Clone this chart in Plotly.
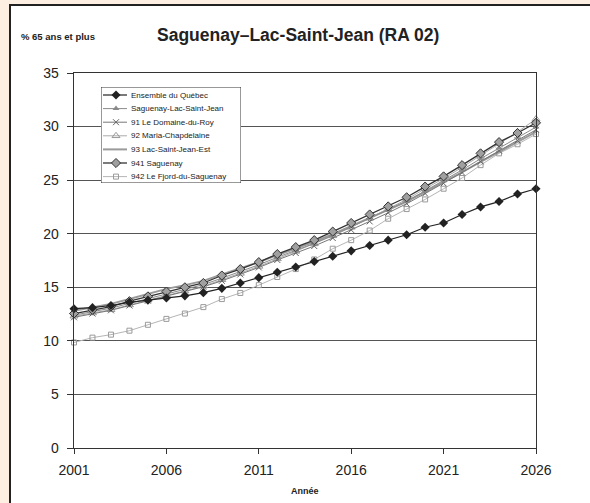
import plotly.graph_objects as go

# ---------------- data ----------------
years = list(range(2001, 2027))

quebec = [13.0, 13.1, 13.3, 13.6, 13.8, 14.0, 14.2, 14.5, 14.9, 15.4, 15.9, 16.4, 16.9,
          17.4, 17.9, 18.4, 18.9, 19.4, 19.9, 20.6, 21.0, 21.8, 22.5, 23.0, 23.7, 24.2]
slsj = [12.4, 12.75, 13.05, 13.5, 13.95, 14.4, 14.8, 15.25, 15.85, 16.45, 17.1, 17.8, 18.45,
        19.1, 19.85, 20.65, 21.45, 22.2, 23.05, 24.0, 24.95, 25.95, 27.0, 28.0, 28.95, 29.95]
roy91 = [12.2, 12.55, 12.85, 13.3, 13.75, 14.2, 14.6, 15.05, 15.6, 16.2, 16.85, 17.55, 18.2,
         18.85, 19.6, 20.35, 21.15, 21.95, 22.8, 23.75, 24.7, 25.7, 26.75, 27.75, 28.7, 29.7]
maria92 = [12.3, 12.6, 12.9, 13.35, 13.8, 14.25, 14.65, 15.1, 15.7, 16.3, 16.95, 17.65, 18.35,
           19.05, 19.8, 20.6, 21.45, 22.3, 23.2, 24.2, 25.15, 26.2, 27.3, 28.4, 29.5, 30.7]
lsje93 = [12.8, 13.15, 13.45, 13.9, 14.35, 14.85, 15.2, 15.6, 16.2, 16.75, 17.35, 18.0, 18.6,
          19.25, 19.95, 20.7, 21.45, 22.2, 23.0, 23.9, 24.8, 25.75, 26.7, 27.65, 28.55, 29.5]
sag941 = [12.55, 12.9, 13.2, 13.7, 14.15, 14.6, 15.0, 15.4, 16.1, 16.7, 17.35, 18.1, 18.75,
          19.4, 20.2, 21.0, 21.8, 22.55, 23.4, 24.4, 25.35, 26.4, 27.5, 28.55, 29.4, 30.35]
fjord942 = [9.85, 10.3, 10.58, 10.95, 11.5, 12.05, 12.55, 13.15, 13.9, 14.47, 15.2, 15.96, 16.7,
            17.6, 18.6, 19.4, 20.3, 21.4, 22.3, 23.2, 24.2, 25.2, 26.4, 27.5, 28.35, 29.3]

names = ["Ensemble du Québec", "Saguenay-Lac-Saint-Jean", "91 Le Domaine-du-Roy",
         "92 Maria-Chapdelaine", "93 Lac-Saint-Jean-Est", "941 Saguenay",
         "942 Le Fjord-du-Saguenay"]
values = [quebec, slsj, roy91, maria92, lsje93, sag941, fjord942]

x_ticks = [2001, 2006, 2011, 2016, 2021, 2026]
y_ticks = [0, 5, 10, 15, 20, 25, 30, 35]

# ---------------- styles ----------------
styles = [
    dict(line=dict(color="#222222", width=1.2),
         marker=dict(symbol="diamond", size=7, color="#222222")),
    dict(line=dict(color="#8a8a8a", width=1),
         marker=dict(symbol="triangle-up", size=6, color="#8a8a8a")),
    dict(line=dict(color="#777777", width=1),
         marker=dict(symbol="x-thin-open", size=6, color="#666666", line=dict(width=1, color="#666666"))),
    dict(line=dict(color="#aaaaaa", width=1),
         marker=dict(symbol="triangle-up-open", size=7, color="#999999", line=dict(width=1, color="#999999"))),
    dict(line=dict(color="#9a9a9a", width=2), marker=None),
    dict(line=dict(color="#333333", width=1.3),
         marker=dict(symbol="diamond", size=7, color="#a0a0a0", line=dict(width=1, color="#333333"))),
    dict(line=dict(color="#b5b5b5", width=1),
         marker=dict(symbol="square-open", size=5, color="#9a9a9a", line=dict(width=1, color="#9a9a9a"))),
]

fig = go.Figure()

order = [6, 4, 3, 2, 1, 5, 0]
for i in order:
    st = styles[i]
    kw = dict(x=years, y=values[i], name=names[i], showlegend=False,
              line=st["line"], cliponaxis=False)
    if st["marker"] is None:
        kw["mode"] = "lines"
    else:
        kw["mode"] = "lines+markers"
        kw["marker"] = st["marker"]
    fig.add_trace(go.Scatter(**kw))

# ---------------- custom compact legend (inset axes) ----------------
row_h = 13.6
for i, nm in enumerate(names):
    yy = 8 + row_h * i
    st = styles[i]
    fig.add_trace(go.Scatter(x=[2, 26], y=[yy, yy], mode="lines", line=st["line"],
                             xaxis="x2", yaxis="y2", showlegend=False, hoverinfo="skip",
                             cliponaxis=False))
    if st["marker"] is not None:
        fig.add_trace(go.Scatter(x=[15], y=[yy], mode="markers", marker=st["marker"],
                                 xaxis="x2", yaxis="y2", showlegend=False, hoverinfo="skip",
                                 cliponaxis=False))
    fig.add_annotation(x=28, y=yy, xref="x2", yref="y2", text=nm, showarrow=False,
                       xanchor="left", yanchor="middle",
                       font=dict(size=8, color="#222222", family="Liberation Sans, Arial, sans-serif"))

fig.add_shape(type="rect", xref="x2", yref="y2", x0=0, x1=140, y0=0, y1=96,
              line=dict(color="#333333", width=1), fillcolor="white", layer="below")

L, R, T, B = 74, 536, 73, 448
W, H = 590, 503
pw, ph = R - L, B - T
def px(xp):
    return (xp - L) / pw
def py(yp):
    return (B - yp) / ph

PEACH = "#fdf0e2"
# peach margins (left and top) of the page, then the black panel border
fig.add_shape(type="rect", xref="paper", yref="paper",
              x0=px(0), x1=px(W), y0=py(4), y1=py(0),
              line=dict(width=0), fillcolor=PEACH, layer="below")
fig.add_shape(type="rect", xref="paper", yref="paper",
              x0=px(0), x1=px(9), y0=py(H), y1=py(0),
              line=dict(width=0), fillcolor=PEACH, layer="below")
fig.add_shape(type="line", xref="paper", yref="paper",
              x0=px(9), x1=px(W), y0=py(5), y1=py(5),
              line=dict(color="#222222", width=2), layer="below")
fig.add_shape(type="line", xref="paper", yref="paper",
              x0=px(10), x1=px(10), y0=py(H), y1=py(4),
              line=dict(color="#222222", width=2), layer="below")

fig.add_annotation(x=px(298), y=py(35), xref="paper", yref="paper",
                   text="<b>Saguenay–Lac-Saint-Jean (RA 02)</b>", showarrow=False,
                   xanchor="center", yanchor="middle",
                   font=dict(size=17.5, color="#222222"))
fig.add_annotation(x=px(19), y=py(37), xref="paper", yref="paper",
                   text="<b>% 65 ans et plus</b>", showarrow=False,
                   xanchor="left", yanchor="middle",
                   font=dict(size=9.5, color="#222222"))
fig.add_annotation(x=px(305), y=py(491), xref="paper", yref="paper",
                   text="<b>Année</b>", showarrow=False,
                   xanchor="center", yanchor="middle",
                   font=dict(size=9, color="#222222"))

fig.update_layout(
    width=W, height=H,
    margin=dict(l=L, r=W - R, t=T, b=H - B, pad=0),
    paper_bgcolor="white",
    plot_bgcolor="white",
    font=dict(family="Liberation Sans, Arial, sans-serif", color="#222222"),
    showlegend=False,
    hovermode=False,
    xaxis=dict(range=[2001, 2026], tickvals=x_ticks, ticks="outside", ticklen=5,
               tickcolor="#333333", showline=True, linecolor="#333333", linewidth=1.3,
               mirror=True, showgrid=False, zeroline=False,
               tickfont=dict(size=14), ticklabelstandoff=4),
    yaxis=dict(range=[0, 35], tickvals=y_ticks, ticks="outside", ticklen=6,
               tickcolor="#333333", showline=True, linecolor="#333333", linewidth=1.3,
               mirror=True, showgrid=True, gridcolor="#555555", gridwidth=1,
               zeroline=False, tickfont=dict(size=14), ticklabelstandoff=5),
    xaxis2=dict(domain=[px(101), px(241)], range=[0, 140], visible=False,
                anchor="y2", fixedrange=True),
    yaxis2=dict(domain=[py(183), py(87)], range=[96, 0], visible=False,
                anchor="x2", fixedrange=True),
)

fig.write_html(
    "out.html",
    config={"displayModeBar": False, "staticPlot": True},
    post_script="document.body.style.margin='0';document.body.style.padding='0';"
                "document.body.style.overflow='hidden';"
                "document.body.style.background='white';"
                "document.documentElement.style.overflow='hidden';",
)
